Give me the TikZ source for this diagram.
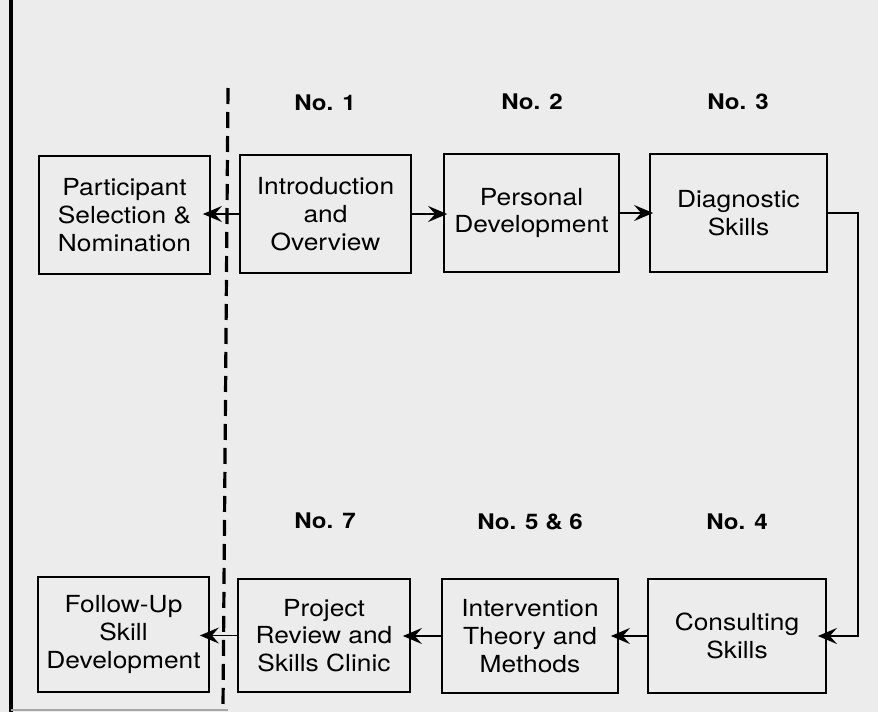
\documentclass[tikz,border=0pt]{standalone}
\usepackage{fontspec}
\setmainfont{TeX Gyre Heros}[FakeStretch=1.12]
\usetikzlibrary{arrows.meta}
\definecolor{paper}{HTML}{ECECEC}
\tikzset{
  box/.style={draw=black, line width=1.8pt, inner sep=0pt, align=center,
    font=\fontsize{23.5}{27.7}\selectfont},
  lbl/.style={anchor=base, inner sep=0pt, font=\fontsize{21.5}{24}\selectfont\bfseries},
  arr/.style={line width=1.6pt, -{Stealth[length=19pt,width=16pt,inset=7pt]}, shorten >=-8pt},
  arrs/.style={arr, shorten >=-4pt},
  divider/.style={line width=3.2pt, dash pattern=on 16pt off 8pt}
}
\begin{document}
\begin{tikzpicture}[x=1pt,y=-1pt]
  % page and frame
  \fill[paper] (0,0) rectangle (878,712);
  \useasboundingbox (0,0) rectangle (878,712);
  \coordinate (ftop) at (11,0);
  \coordinate (fbot) at (11,712);
  \coordinate (fend) at (228,710);
  \draw[line width=3.5pt] (ftop) -- (fbot);
  \draw[line width=1.2pt, gray!70] (11,710) -- (fend);

  % dashed divider
  \coordinate (dtop) at (228,88);
  \coordinate (dbot) at (223,708);
  \draw[divider] (dtop) -- (dbot);

  % session labels
  \node[lbl] (l1) at (325,110) {No. 1};
  \node[lbl] (l2) at (532,109) {No. 2};
  \node[lbl] (l3) at (738,109) {No. 3};
  \node[lbl] (l7) at (325,528) {No. 7};
  \node[lbl] (l56) at (530,529) {No. 5 \& 6};
  \node[lbl] (l4) at (737,529) {No. 4};

  % top row
  \node[box, minimum width=171pt, minimum height=118pt] (P) at (124.5,215) {Participant\\Selection \&\\Nomination};
  \node[box, minimum width=171pt, minimum height=118pt] (I) at (325.5,214) {Introduction\\and\\Overview};
  \node[box, minimum width=175pt, minimum height=118pt] (D) at (531.5,213) {Personal\\Development};
  \node[box, minimum width=177pt, minimum height=118pt] (G) at (738.5,213) {Diagnostic\\Skills};

  % bottom row
  \node[box, minimum width=178pt, minimum height=114pt] (C) at (737,636) {Consulting\\Skills};
  \node[box, minimum width=176pt, minimum height=114pt] (V) at (530,636) {Intervention\\Theory and\\Methods};
  \node[box, minimum width=172pt, minimum height=113pt] (R) at (324,635.5) {Project\\Review and\\Skills Clinic};
  \node[box, minimum width=171pt, minimum height=115pt] (F) at (123.5,634.5) {Follow-Up\\Skill\\Development};

  % connectors
  \coordinate (turn1) at (858,213);
  \coordinate (turn2) at (858,636);
  \draw[arr] (I.west) -- (I.west -| P.east);
  \draw[arrs] (I.east) -- (I.east -| D.west);
  \draw[arrs] (D.east) -- (D.east -| G.west);
  \draw[arr, shorten >=-9pt] (G.east) -- (turn1) -- (turn2) -- (C.east);
  \draw[arr] (C.west) -- (C.west -| V.east);
  \draw[arr] (V.west) -- (V.west -| R.east);
  \draw[arr, shorten >=-10pt] (R.west) -- (R.west -| F.east);
\end{tikzpicture}
\end{document}
